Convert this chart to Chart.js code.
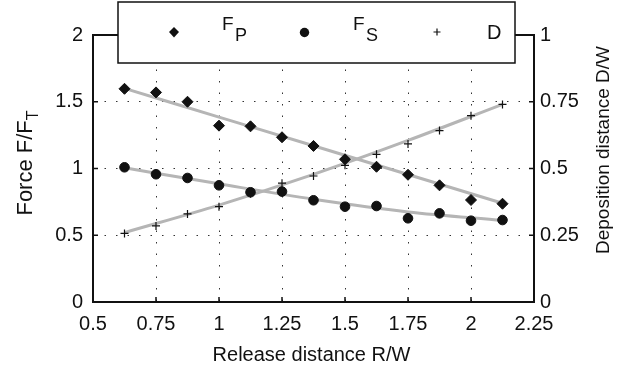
<!DOCTYPE html>
<html>
<head>
<meta charset="utf-8">
<script src="https://cdn.jsdelivr.net/npm/chart.js@4.4.0/dist/chart.umd.min.js"></script>
<style>
  html, body { margin: 0; padding: 0; background: #fff; }
</style>
</head>
<body>
<canvas id="myChart" width="620" height="371"></canvas>
<script>
// gia tri doc tu hinh
const releaseR = [0.625, 0.75, 0.875, 1.0, 1.125, 1.25, 1.375, 1.5, 1.625, 1.75, 1.875, 2.0, 2.125];
const forceP = [1.597, 1.570, 1.500, 1.321, 1.316, 1.234, 1.169, 1.069, 1.013, 0.953, 0.874, 0.764, 0.736];
const forceS = [1.009, 0.957, 0.929, 0.874, 0.822, 0.827, 0.762, 0.714, 0.719, 0.627, 0.664, 0.609, 0.614];
const depoD = [0.257, 0.285, 0.330, 0.357, 0.405, 0.445, 0.472, 0.512, 0.553, 0.592, 0.642, 0.698, 0.740];

// duong fit (xam)
const fitR = [0.625, 1.0, 1.375, 1.75, 2.125];
const fitP = [1.60, 1.385, 1.17, 0.955, 0.74];
const fitS = [1.005, 0.885, 0.77, 0.675, 0.612];
const fitD = [0.26, 0.363, 0.478, 0.605, 0.74];

const xTicks = [0.5, 0.75, 1, 1.25, 1.5, 1.75, 2, 2.25];
const forceTicks = [0, 0.5, 1, 1.5, 2];
const depoTicks = [0, 0.25, 0.5, 0.75, 1];

const FONT = 'Liberation Sans, Arial, sans-serif';
const INK = '#111';
const GRAY = '#b5b5b5';

const pts = (xs, ys) => xs.map((x, i) => ({ x: x, y: ys[i] }));

const fitLine = (data, axis) => ({
    data: data, yAxisID: axis, showLine: true, borderColor: GRAY, borderWidth: 3,
    pointRadius: 0, cubicInterpolationMode: 'monotone', order: 2
});

const markers = (data, axis, style, r) => ({
    data: data, yAxisID: axis, showLine: false, pointStyle: style, pointRadius: r,
    pointBackgroundColor: INK, pointBorderColor: INK, pointBorderWidth: style === 'cross' ? 1.2 : 1,
    order: 1
});

// ve khung, vach chia vao trong, chu thich va tieu de truc
const extras = {
    id: 'extras',
    afterDraw(chart) {
        const ctx = chart.ctx;
        const a = chart.chartArea;
        const sx = chart.scales.x, sy = chart.scales.y, sy1 = chart.scales.y1;
        ctx.save();
        ctx.strokeStyle = INK;
        ctx.lineWidth = 1.5;
        const t = 5;
        ctx.beginPath();
        xTicks.forEach(v => {
            const px = sx.getPixelForValue(v);
            ctx.moveTo(px, a.bottom); ctx.lineTo(px, a.bottom - t);
            ctx.moveTo(px, a.top); ctx.lineTo(px, a.top + t);
        });
        forceTicks.forEach(v => {
            const py = sy.getPixelForValue(v);
            ctx.moveTo(a.left, py); ctx.lineTo(a.left + t, py);
        });
        depoTicks.forEach(v => {
            const py = sy1.getPixelForValue(v);
            ctx.moveTo(a.right, py); ctx.lineTo(a.right - t, py);
        });
        ctx.stroke();
        ctx.lineWidth = 2;
        ctx.strokeRect(a.left, a.top, a.right - a.left, a.bottom - a.top);

        // legend
        ctx.fillStyle = '#fff';
        ctx.fillRect(118, 2, 397, 61);
        ctx.lineWidth = 1.5;
        ctx.strokeRect(118, 2, 397, 61);
        ctx.fillStyle = INK;
        ctx.beginPath();
        ctx.moveTo(174, 27); ctx.lineTo(179, 32); ctx.lineTo(174, 37.5); ctx.lineTo(169, 32); ctx.closePath();
        ctx.fill();
        ctx.beginPath();
        ctx.arc(304.5, 32.5, 4.7, 0, Math.PI * 2);
        ctx.fill();
        ctx.lineWidth = 1.2;
        ctx.beginPath();
        ctx.moveTo(433.5, 32); ctx.lineTo(440.5, 32);
        ctx.moveTo(437, 28.5); ctx.lineTo(437, 35.5);
        ctx.stroke();

        ctx.textBaseline = 'alphabetic';
        ctx.textAlign = 'left';
        ctx.font = '19px ' + FONT;
        ctx.fillText('F', 222, 30);
        ctx.fillText('F', 353, 30);
        ctx.font = '18px ' + FONT;
        ctx.fillText('P', 235, 41);
        ctx.fillText('S', 366, 41);
        ctx.font = '20px ' + FONT;
        ctx.fillText('D', 487, 39.3);

        // x title
        ctx.textAlign = 'center';
        ctx.textBaseline = 'middle';
        ctx.font = '20px ' + FONT;
        ctx.fillText('Release distance R/W', 311.5, 355);

        // left title with subscript
        ctx.save();
        ctx.translate(32, 163);
        ctx.rotate(-Math.PI / 2);
        ctx.textBaseline = 'alphabetic';
        ctx.textAlign = 'left';
        ctx.font = '22px ' + FONT;
        const main = 'Force F/F';
        const w1 = ctx.measureText(main).width;
        ctx.font = '16px ' + FONT;
        const w2 = ctx.measureText('T').width;
        ctx.font = '22px ' + FONT;
        ctx.fillText(main, -(w1 + w2) / 2, 0);
        ctx.font = '16px ' + FONT;
        ctx.fillText('T', -(w1 + w2) / 2 + w1, 6);
        ctx.restore();

        // right title
        ctx.save();
        ctx.translate(609, 150);
        ctx.rotate(-Math.PI / 2);
        ctx.textAlign = 'center';
        ctx.textBaseline = 'alphabetic';
        ctx.font = '19px ' + FONT;
        ctx.fillText('Deposition distance D/W', 0, 0);
        ctx.restore();
        ctx.restore();
    }
};

const tickFont = { family: FONT, size: 20 };
const gridOpts = { color: '#333', lineWidth: 1, drawTicks: false };

const ctx = document.getElementById('myChart').getContext('2d');
const myChart = new Chart(ctx, {
    type: 'scatter',
    data: {
        datasets: [
            fitLine(pts(fitR, fitP), 'y'),
            fitLine(pts(fitR, fitS), 'y'),
            fitLine(pts(fitR, fitD), 'y1'),
            markers(pts(releaseR, forceP), 'y', 'rectRot', 5.5),
            markers(pts(releaseR, forceS), 'y', 'circle', 4.8),
            markers(pts(releaseR, depoD), 'y1', 'cross', 4)
        ]
    },
    options: {
        responsive: false,
        devicePixelRatio: 1,
        animation: false,
        layout: { padding: { top: 35, left: 0, right: 0, bottom: 0 } },
        plugins: { legend: { display: false }, tooltip: { enabled: false } },
        scales: {
            x: {
                type: 'linear', min: 0.5, max: 2.25,
                afterBuildTicks: s => { s.ticks = xTicks.map(v => ({ value: v })); },
                afterFit: s => { s.height = 69; },
                ticks: { font: tickFont, color: INK, padding: 10, autoSkip: false, maxRotation: 0,
                         callback: v => String(v) },
                grid: gridOpts,
                border: { display: false, dash: [1.5, 10] }
            },
            y: {
                type: 'linear', position: 'left', min: 0, max: 2,
                afterBuildTicks: s => { s.ticks = forceTicks.map(v => ({ value: v })); },
                afterFit: s => { s.width = 93; },
                ticks: { font: tickFont, color: INK, padding: 10, callback: v => String(v) },
                grid: gridOpts,
                border: { display: false, dash: [1.5, 10] }
            },
            y1: {
                type: 'linear', position: 'right', min: 0, max: 1,
                afterBuildTicks: s => { s.ticks = depoTicks.map(v => ({ value: v })); },
                afterFit: s => { s.width = 86; },
                ticks: { font: tickFont, color: INK, padding: 6, callback: v => String(v) },
                grid: { drawOnChartArea: false, drawTicks: false },
                border: { display: false }
            }
        }
    },
    plugins: [extras]
});
</script>
</body>
</html>
